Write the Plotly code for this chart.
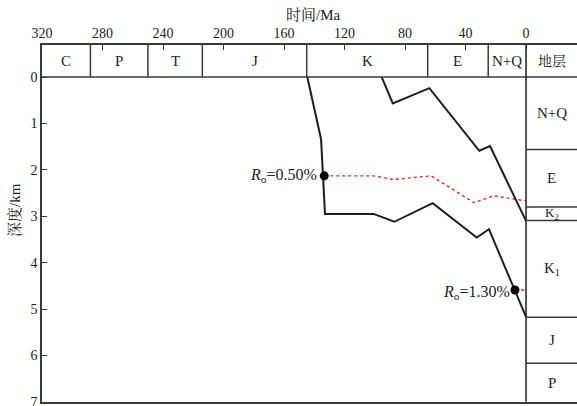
import plotly.graph_objects as go

# ---------------- data ----------------
age_ticks = [320, 280, 240, 200, 160, 120, 80, 40, 0]
depth_ticks = [0, 1, 2, 3, 4, 5, 6, 7]

periods = ["C", "P", "T", "J", "K", "E", "N+Q"]
period_bounds = [320, 288, 250, 214, 145, 65, 25, 0]  # Ma

strata = ["N+Q", "E", "K<sub>2</sub>", "K<sub>1</sub>", "J", "P"]
strata_bounds = [0, 1.56, 2.80, 3.09, 5.18, 6.17, 7.0]  # km

upper_age = [95.4, 88.1, 63.9, 30.9, 23.8, 0]
upper_depth = [0, 0.57, 0.24, 1.59, 1.49, 3.10]

lower_age = [144.6, 135.5, 132.9, 100.8, 87.1, 61.7, 32.6, 24.5, 0]
lower_depth = [0, 1.34, 2.95, 2.95, 3.12, 2.72, 3.46, 3.28, 5.17]

ro050_age = [133.4, 100.8, 87.9, 62.8, 34.2, 21.8, 0]
ro050_depth = [2.13, 2.13, 2.21, 2.13, 2.71, 2.56, 2.67]

ro130_age = [7.3, 0]
ro130_depth = [4.59, 4.59]

ro_labels = ["0.50%", "1.30%"]
ro_dot_age = [133.4, 7.3]
ro_dot_depth = [2.13, 4.59]

# ---------------- layout constants ----------------
X_MIN, X_MAX = -33.7, 320
Y_TOP, Y_BOT = -0.69, 7.0
COL_X = (0 + X_MIN) / 2  # centre of the strata column
SERIF = "Liberation Serif, Noto Serif CJK SC, Noto Sans CJK SC, serif"
BOX = "#3a3a3a"
CURVE = "#1e1e1e"

fig = go.Figure()

# red dotted Ro lines
fig.add_trace(go.Scatter(x=ro050_age, y=ro050_depth, mode="lines",
                         line=dict(color="#ff2020", width=1.4, dash="dot"),
                         hoverinfo="skip", showlegend=False))
fig.add_trace(go.Scatter(x=ro130_age, y=ro130_depth, mode="lines",
                         line=dict(color="#ff2020", width=1.4, dash="dot"),
                         hoverinfo="skip", showlegend=False))
# burial curves
fig.add_trace(go.Scatter(x=upper_age, y=upper_depth, mode="lines",
                         line=dict(color=CURVE, width=2), showlegend=False))
fig.add_trace(go.Scatter(x=lower_age, y=lower_depth, mode="lines",
                         line=dict(color=CURVE, width=2), showlegend=False))
# Ro dots
fig.add_trace(go.Scatter(x=ro_dot_age, y=ro_dot_depth, mode="markers",
                         marker=dict(color="black", size=9), showlegend=False))

shapes = []
# header bottom line (0 km) across full width
shapes.append(dict(type="line", xref="x", yref="y", x0=X_MAX, x1=X_MIN, y0=0, y1=0,
                   line=dict(color=BOX, width=1.5)))
# period separators in header
for b in period_bounds[1:-1]:
    shapes.append(dict(type="line", xref="x", yref="y", x0=b, x1=b, y0=Y_TOP, y1=0,
                       line=dict(color=BOX, width=1.5)))
# 0 Ma vertical line (full height)
shapes.append(dict(type="line", xref="x", yref="y", x0=0, x1=0, y0=Y_TOP, y1=Y_BOT,
                   line=dict(color=CURVE, width=1.5)))
# strata boundaries in right column
for b in strata_bounds[1:-1]:
    shapes.append(dict(type="line", xref="x", yref="y", x0=0, x1=X_MIN, y0=b, y1=b,
                       line=dict(color=BOX, width=1.5)))
fig.update_layout(shapes=shapes)

ann = []
# period labels
for i, p in enumerate(periods):
    ann.append(dict(x=(period_bounds[i] + period_bounds[i + 1]) / 2, y=Y_TOP / 2,
                    xref="x", yref="y", text=p, showarrow=False,
                    font=dict(family=SERIF, size=15, color="#222")))
ann.append(dict(x=COL_X, y=Y_TOP / 2, xref="x", yref="y", text="地层", showarrow=False,
                font=dict(family=SERIF, size=14, color="#222")))
# strata labels
for i, s in enumerate(strata):
    ann.append(dict(x=COL_X, y=(strata_bounds[i] + strata_bounds[i + 1]) / 2,
                    xref="x", yref="y", text=s, showarrow=False,
                    font=dict(family=SERIF, size=15 if i != 2 else 13, color="#222")))
# Ro labels
ann.append(dict(x=ro_dot_age[0] + 3.2, y=ro_dot_depth[0], xref="x", yref="y",
                text="<i>R</i><sub>o</sub>=" + ro_labels[0], showarrow=False,
                xanchor="right", yanchor="middle",
                font=dict(family=SERIF, size=16, color="#222")))
ann.append(dict(x=ro_dot_age[1] + 2.0, y=ro_dot_depth[1] + 0.06, xref="x", yref="y",
                text="<i>R</i><sub>o</sub>=" + ro_labels[1], showarrow=False,
                xanchor="right", yanchor="middle",
                font=dict(family=SERIF, size=16, color="#222")))
# axis titles
ann.append(dict(x=(313 - 42) / 535, y=1 + (45 - 15) / 357, xref="paper", yref="paper",
                xanchor="center", yanchor="middle", text="时间/Ma", showarrow=False,
                font=dict(family=SERIF, size=15, color="#222")))
ann.append(dict(x=-(42 - 14) / 535, y=(402 - 210) / 357, xref="paper", yref="paper",
                xanchor="center", yanchor="middle", text="深度/km", textangle=-90,
                showarrow=False, font=dict(family=SERIF, size=15, color="#222")))
fig.update_layout(annotations=ann)

fig.update_xaxes(range=[X_MAX, X_MIN], side="top", tickvals=age_ticks,
                 ticktext=[str(v) for v in age_ticks], ticks="inside", ticklen=5,
                 tickwidth=1.2, tickcolor=BOX, showline=True, linecolor=BOX,
                 linewidth=1.5, mirror=True, showgrid=False, zeroline=False,
                 ticklabeloverflow="allow", automargin=False,
                 tickfont=dict(family=SERIF, size=14, color="#222"))
fig.update_yaxes(range=[Y_BOT + 0.004, Y_TOP], tickvals=depth_ticks,
                 ticktext=[str(v) for v in depth_ticks], ticks="inside", ticklen=5,
                 tickwidth=1.2, tickcolor=BOX, showline=True, linecolor=BOX,
                 linewidth=1.5, showgrid=False, zeroline=False,
                 ticklabeloverflow="allow", automargin=False,
                 tickfont=dict(family=SERIF, size=14, color="#222"))

fig.update_layout(width=577, height=406, margin=dict(l=42, r=0, t=45, b=4),
                  plot_bgcolor="white", paper_bgcolor="white",
                  font=dict(family=SERIF, color="#222"), showlegend=False)

fig.write_html("out.html", config={"displayModeBar": False},
               post_script="document.body.style.margin='0';")
